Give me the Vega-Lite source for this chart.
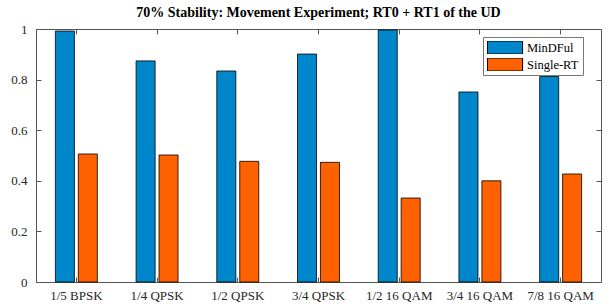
{
  "$schema": "https://vega.github.io/schema/vega-lite/v6.json",
  "width": 565,
  "height": 253,
  "autosize": "none",
  "padding": {"left": 36, "top": 29, "right": 13, "bottom": 22},
  "background": "white",
  "title": {
    "text": "70% Stability: Movement Experiment; RT0 + RT1 of the UD",
    "font": "Liberation Serif",
    "fontSize": 14,
    "fontWeight": "bold",
    "color": "black",
    "anchor": "middle",
    "offset": 3
  },
  "config": {
    "view": {"stroke": null},
    "style": {"guide-label": {"font": "Liberation Serif", "fontSize": 13}},
    "axis": {
      "labelFont": "Liberation Serif",
      "labelFontSize": 13,
      "labelColor": "#262626",
      "domainColor": "#555555",
      "tickColor": "#555555",
      "domainWidth": 1,
      "grid": false,
      "title": null
    },
    "legend": {"labelFont": "Liberation Serif", "labelFontSize": 12}
  },
  "data": {
    "values": [
      {"rate": "1/5 BPSK", "series": "MinDFul", "value": 0.992},
      {"rate": "1/4 QPSK", "series": "MinDFul", "value": 0.874},
      {"rate": "1/2 QPSK", "series": "MinDFul", "value": 0.834},
      {"rate": "3/4 QPSK", "series": "MinDFul", "value": 0.901},
      {"rate": "1/2 16 QAM", "series": "MinDFul", "value": 0.996},
      {"rate": "3/4 16 QAM", "series": "MinDFul", "value": 0.751},
      {"rate": "7/8 16 QAM", "series": "MinDFul", "value": 0.812},
      {"rate": "1/5 BPSK", "series": "Single-RT", "value": 0.506},
      {"rate": "1/4 QPSK", "series": "Single-RT", "value": 0.502},
      {"rate": "1/2 QPSK", "series": "Single-RT", "value": 0.477},
      {"rate": "3/4 QPSK", "series": "Single-RT", "value": 0.473},
      {"rate": "1/2 16 QAM", "series": "Single-RT", "value": 0.332},
      {"rate": "3/4 16 QAM", "series": "Single-RT", "value": 0.4},
      {"rate": "7/8 16 QAM", "series": "Single-RT", "value": 0.427}
    ]
  },
  "layer": [
    {
      "mark": {"type": "bar", "stroke": "black", "strokeWidth": 0.8},
      "encoding": {
        "x": {
          "field": "rate", "type": "nominal", "sort": null,
          "scale": {"paddingInner": 0.48, "paddingOuter": 0.24},
          "axis": {"orient": "bottom", "labelAngle": 0, "tickSize": -5, "labelPadding": 12, "labelFont": "Liberation Serif", "labelFontSize": 13}
        },
        "xOffset": {
          "field": "series", "type": "nominal", "sort": ["MinDFul", "Single-RT"],
          "scale": {"paddingInner": 0.17, "paddingOuter": 0}
        },
        "y": {
          "field": "value", "type": "quantitative",
          "scale": {"domain": [0, 1], "nice": false},
          "axis": {"orient": "left", "values": [0, 0.2, 0.4, 0.6, 0.8, 1], "format": "~g", "tickSize": -5, "labelPadding": 14, "labelFont": "Liberation Serif", "labelFontSize": 13}
        },
        "color": {
          "field": "series", "type": "nominal",
          "scale": {"domain": ["MinDFul", "Single-RT"], "range": ["#0087CB", "#FF6100"]},
          "legend": {
            "title": null,
            "orient": "none",
            "legendX": 447,
            "legendY": 8,
            "direction": "vertical",
            "fillColor": "white",
            "strokeColor": "#777777",
            "padding": 4,
            "rowPadding": 4,
            "clipHeight": 13,
            "labelFont": "Liberation Serif",
            "labelFontSize": 12.5,
            "labelColor": "black",
            "labelOffset": 26,
            "symbolType": "M-1,-1L4.4,-1L4.4,1L-1,1Z",
            "symbolSize": 169,
            "symbolStrokeColor": "black",
            "symbolStrokeWidth": 1,
            "symbolOpacity": 1
          }
        }
      }
    },
    {
      "mark": {"type": "bar", "opacity": 0},
      "encoding": {
        "x": {
          "field": "rate", "type": "nominal", "sort": null,
          "axis": {"orient": "top", "labels": false, "tickSize": -5}
        },
        "xOffset": {"field": "series", "type": "nominal", "sort": ["MinDFul", "Single-RT"]},
        "y": {
          "field": "value", "type": "quantitative",
          "axis": {"orient": "right", "labels": false, "values": [0, 0.2, 0.4, 0.6, 0.8, 1], "tickSize": -5}
        }
      }
    }
  ],
  "resolve": {"axis": {"x": "independent", "y": "independent"}}
}
